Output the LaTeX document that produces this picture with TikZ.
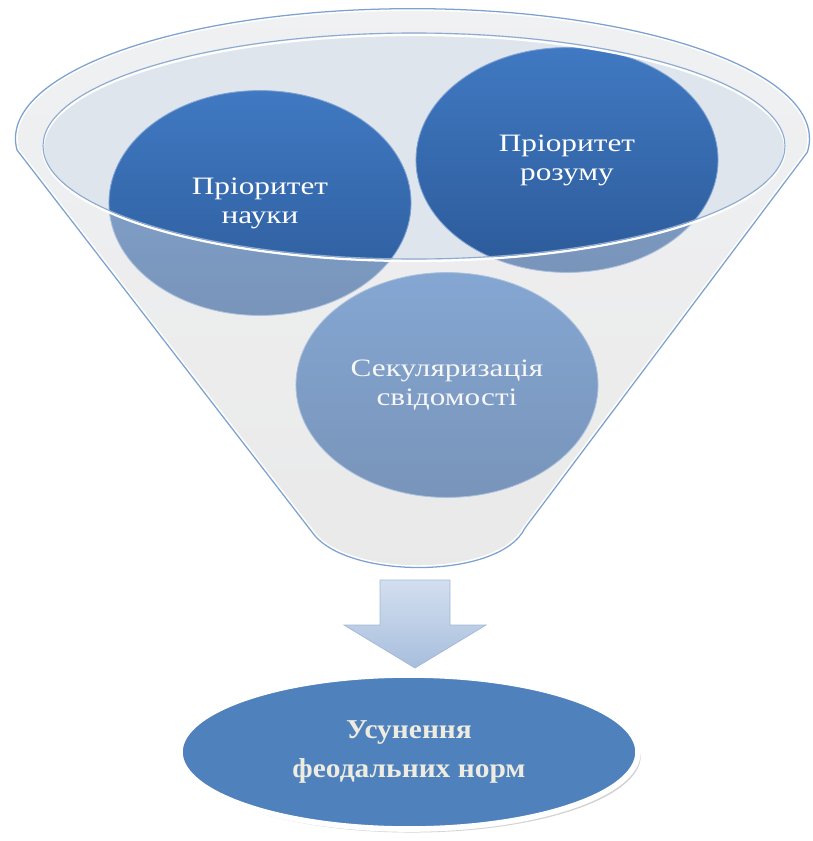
\documentclass[tikz,border=0pt]{standalone}
\usepackage{fontspec}
\newfontfamily\ideafont[FakeStretch=1.25]{Liberation Serif}
\newfontfamily\resultfont[FakeStretch=1.08]{Liberation Serif}
\usetikzlibrary{shapes.geometric,shadows}

\definecolor{funnelgrey}{HTML}{E8E8E8}
\definecolor{rimgrey}{HTML}{F3F5F8}
\definecolor{glassgrey}{HTML}{ECECEC}
\definecolor{innerfill}{HTML}{DFE5ED}
\definecolor{ideatop}{HTML}{4079C2}
\definecolor{ideabot}{HTML}{2C5A99}
\definecolor{ideaedge}{HTML}{7FA3D3}
\definecolor{rimline}{HTML}{8DAAD0}
\definecolor{funnelline}{HTML}{7EA2D0}
\definecolor{arrowtop}{HTML}{D3DFEF}
\definecolor{arrowbot}{HTML}{A7BEDD}
\definecolor{arrowedge}{HTML}{A2B8D7}
\definecolor{resultblue}{HTML}{4F81BD}
\definecolor{resulttext}{HTML}{EEECE1}

% outline of the funnel, in pixel units
\newcommand\funnelpath{(17,150) arc[start angle=175, end angle=366, x radius=397, y radius=130]
  -- (525,528) .. controls (500,580) and (345,580) .. (312,532) -- cycle}

\begin{document}
\begin{tikzpicture}[x=0.025cm, y=-0.025cm,
  idea/.style={ellipse, inner sep=0pt, minimum width=7.55cm, minimum height=5.62cm,
    top color=ideatop, bottom color=ideabot, draw=ideaedge, line width=0.6pt,
    text=white, align=center, font=\ideafont\fontsize{17.8}{20.6}\selectfont},
  glass/.style={fill=glassgrey, fill opacity=0.4},
  result/.style={ellipse, inner sep=0pt, minimum width=11.45cm, minimum height=3.85cm,
    fill=resultblue, draw=white, line width=4pt,
    drop shadow={shadow xshift=2pt, shadow yshift=-2.5pt, fill=black!35},
    text=resulttext, align=center,
    font=\resultfont\bfseries\fontsize{19.4}{27.7}\selectfont}]
\useasboundingbox (0,0) rectangle (812,841);

% funnel body and its mouth
\path[top color=rimgrey, bottom color=funnelgrey] \funnelpath;
\fill[innerfill] (414,146) ellipse [x radius=371, y radius=113];

% the three ideas
\node[idea] (science) at (260,203) {Пріоритет\\науки};
\node[idea] (reason)  at (567,160) {Пріоритет\\розуму};
\node[idea] (secular) at (447,385) {Секуляризація\\свідомості};

% front glass of the funnel
\path[glass, even odd rule] \funnelpath (414,146) ellipse [x radius=371, y radius=113];
\draw[white, line width=1.6pt] (414,148) ellipse [x radius=371, y radius=113];
\draw[rimline, line width=0.8pt] (414,146) ellipse [x radius=371, y radius=113];
\draw[white, line width=3.2pt] \funnelpath;
\draw[funnelline, line width=0.9pt] \funnelpath;

% arrow down to the result
\coordinate (neck) at (415,580);
\node[result] (result) at (409,752) {Усунення\\феодальних норм};
\path[top color=arrowtop, bottom color=arrowbot, draw=arrowedge, line width=0.5pt]
  (neck) ++(-35,0) -- ++(70,0) -- ++(0,45) -- ++(36,0) -- ++(-71,43)
  -- ++(-71,-43) -- ++(36,0) -- cycle;
\end{tikzpicture}
\end{document}
